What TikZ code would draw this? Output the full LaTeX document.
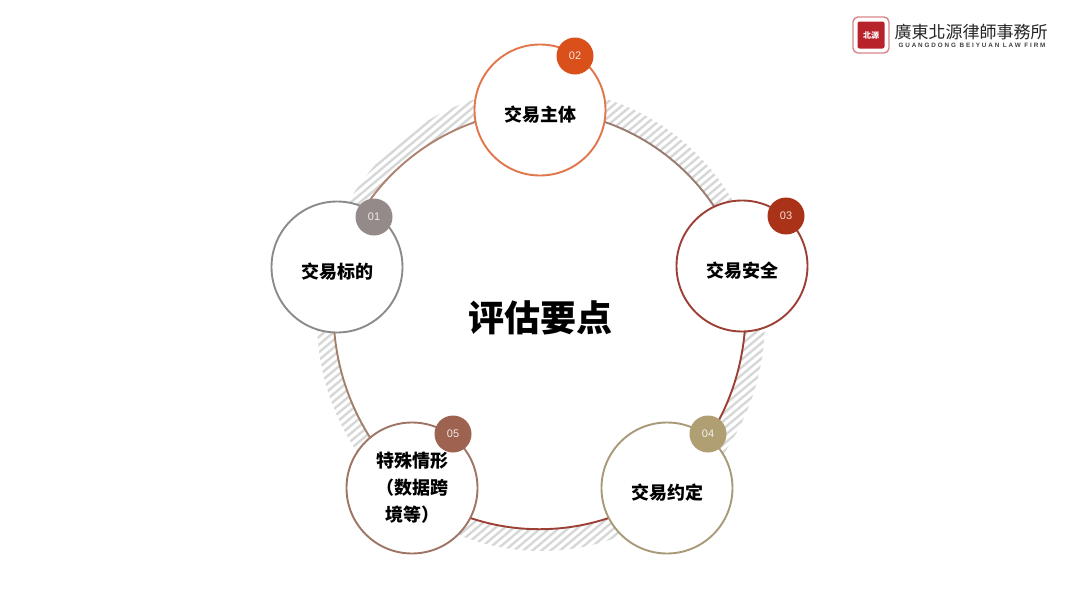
\documentclass[tikz,border=0pt]{standalone}
\usepackage{fontspec}
\newfontfamily\cjk{Noto Sans CJK SC}
\newfontfamily\cjktc{Noto Sans CJK TC}
\setsansfont{Liberation Sans}
\usetikzlibrary{backgrounds,calc}
\definecolor{greyone}{HTML}{8F8A8A}
\definecolor{greybadge}{HTML}{958A8A}
\definecolor{orangetwo}{HTML}{E0764A}
\definecolor{orangebadge}{HTML}{D9501B}
\definecolor{redthree}{HTML}{9C3F35}
\definecolor{redbadge}{HTML}{A93218}
\definecolor{tanfour}{HTML}{A89A78}
\definecolor{tanbadge}{HTML}{B09F72}
\definecolor{brownfive}{HTML}{9E7464}
\definecolor{brownbadge}{HTML}{9E6350}
\definecolor{hatchgrey}{HTML}{D6D8D8}
\definecolor{logored}{HTML}{B8222A}
\tikzset{
  topic/.style={circle,draw=#1,line width=1.9pt,fill=white,minimum size=131pt,inner sep=0pt,
    font=\cjk\bfseries\fontsize{18}{27}\selectfont,align=center,
    execute at begin node={\rule{0pt}{24pt}}},
  badge/.style={circle,fill=#1,minimum size=37pt,inner sep=0pt,text=white!85!#1,
    font=\sffamily\fontsize{11}{11}\selectfont},
  ringarc/.style={draw=#1,line width=1.9pt},
  hatchline/.style={draw=hatchgrey,line width=2.4pt}
}
\begin{document}
\begin{tikzpicture}[x=1pt,y=-1pt]
  \useasboundingbox (0,0) rectangle (1080,608);
  \coordinate (hub) at (541,320);
  % the five topics
  \node[topic=greyone] (object) at (337,267) {交易标的};
  \node[topic=orangetwo] (party) at (540,110) {交易主体};
  \node[topic=redthree] (safety) at (742,266) {交易安全};
  \node[topic=tanfour] (terms) at (667,488) {交易约定};
  \node[topic=brownfive,execute at begin node={\rule{0pt}{28pt}}] (special) at (412,488) {特殊情形\\（数据跨\\境等）};
  \node[font=\cjk\bfseries\fontsize{36}{36}\selectfont] (title) at (540,318) {评估要点};
  % number badges
  \node[badge=greybadge] (num01) at ([shift={(37,-50)}]object.center) {01};
  \node[badge=orangebadge] (num02) at ([shift={(35,-54)}]party.center) {02};
  \node[badge=redbadge] (num03) at ([shift={(44,-50)}]safety.center) {03};
  \node[badge=tanbadge] (num04) at ([shift={(41,-54)}]terms.center) {04};
  \node[badge=brownbadge] (num05) at ([shift={(41,-54)}]special.center) {05};
  % ring and hatching stay behind the circles
  \begin{scope}[on background layer]
    \begin{scope}
      \clip (hub) ellipse (224pt and 231pt);
      \begin{scope}[shift={(541,320)},rotate=40]
        \foreach \i in {-42,...,42}
          \draw[hatchline] (-260,\i*5.9) -- (260,\i*5.9);
      \end{scope}
    \end{scope}
    \fill[white] (object.center) to[bend left=36,looseness=.94] (party.center)
      to[bend left=36,looseness=.94] (safety.center)
      to[bend left=28,looseness=.94] (terms.center)
      to[bend left=36,looseness=.94] (special.center)
      to[bend left=28,looseness=.94] (object.center) -- cycle;
    \path[ringarc=greyone!60!orangetwo] (object.center) to[bend left=36,looseness=.94] (party.center);
    \path[ringarc=brownfive!70!greyone] (party.center) to[bend left=36,looseness=.94] (safety.center);
    \path[ringarc=redthree] (safety.center) to[bend left=28,looseness=.94] (terms.center);
    \path[ringarc=redthree] (terms.center) to[bend left=36,looseness=.94] (special.center);
    \path[ringarc=brownfive!70!tanfour] (special.center) to[bend left=28,looseness=.94] (object.center);
  \end{scope}
  % firm logo
  \node[draw=logored!55,line width=1.4pt,rounded corners=5pt,minimum size=36pt,inner sep=0pt] (logoframe) at (871,35) {};
  \node[fill=logored,rounded corners=2pt,minimum size=27pt,inner sep=0pt,text=white,
    font=\cjk\bfseries\fontsize{8}{8}\selectfont] (logomark) at (logoframe.center) {北源};
  \node[font=\cjktc\fontsize{17}{17}\selectfont,text=black!85,inner sep=0pt] (firmname) at (971,32) {廣東北源律師事務所};
  \node[font=\sffamily\bfseries\fontsize{6.3}{6.3}\selectfont\addfontfeature{LetterSpace=30},text=black!75,inner sep=0pt] (firmlatin) at (972,45) {GUANGDONG BEIYUAN LAW FIRM};
\end{tikzpicture}
\end{document}
